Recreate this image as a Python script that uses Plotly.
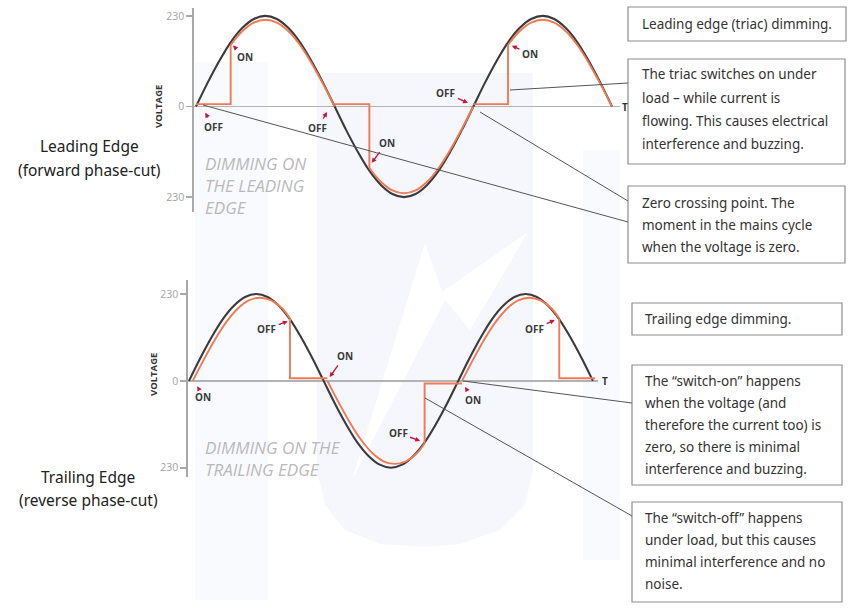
import plotly.graph_objects as go

W, H = 850, 615

# ---------------- data ----------------
PHASE_DEG = list(range(0, 541, 15))
MAINS_V = [0, 60, 115, 163, 199, 222, 230, 222, 199, 163, 115, 60,
           0, -60, -115, -163, -199, -222, -230, -222, -199, -163, -115, -60,
           0, 60, 115, 163, 199, 222, 230, 222, 199, 163, 115, 60, 0]
DIMMED_V = [0, 57, 110, 156, 191, 213, 220, 213, 191, 156, 110, 57,
            0, -57, -110, -156, -191, -213, -220, -213, -191, -156, -110, -57,
            0, 57, 110, 156, 191, 213, 220, 213, 191, 156, 110, 57, 0]

# leading edge: lamp is off from the zero crossing until the triac fires
LEAD_OFF_FROM_DEG = [0, 180, 360]
LEAD_FIRE_DEG = [45, 225, 405]
LEAD_END_DEG = [180, 360, 540]
LEAD_OFF_LEVEL = [6, 6, 6]

# trailing edge: lamp is on from the zero crossing until it is cut
TRAIL_LAG_DEG = 5
TRAIL_START_DEG = [5, 185, 365]
TRAIL_CUT_DEG = [135, 315, 495]
TRAIL_CUT_V = [165, -165, 165]
TRAIL_OFF_LEVEL = [7, -7, 7]
TRAIL_OFF_END_DEG = [185, 365, 543]

TICK_VALS = [230, 0, -230]
TICK_TEXT = ["230", "0", "230"]

LEAD_MARK_TEXT = ["ON", "OFF", "OFF", "ON", "OFF", "ON"]
LEAD_MARK_DEG = [48, 12, 170, 228, 353, 410]
LEAD_MARK_V = [155, -16, -14, -143, 9, 154]
TRAIL_MARK_TEXT = ["ON", "OFF", "ON", "OFF", "ON", "OFF"]
TRAIL_MARK_DEG = [11, 132, 188, 309, 369, 489]
TRAIL_MARK_V = [-14, 158, 10, -159, -16, 161]

BOX_TEXTS = [
    ["Leading edge (triac) dimming."],
    ["The triac switches on under", "load \u2013 while current is",
     "flowing. This causes electrical", "interference and buzzing."],
    ["Zero crossing point. The", "moment in the mains cycle",
     "when the voltage is zero."],
    ["Trailing edge dimming."],
    ["The \u201cswitch-on\u201d happens", "when the voltage (and",
     "therefore the current too) is", "zero, so there is minimal",
     "interference and buzzing."],
    ["The \u201cswitch-off\u201d happens", "under load, but this causes",
     "minimal interference and no", "noise."],
]
SIDE_LABELS = [["Leading Edge", "(forward phase-cut)"],
               ["Trailing Edge", "(reverse phase-cut)"]]
CAPTIONS = [["DIMMING ON", "THE LEADING", "EDGE"],
            ["DIMMING ON THE", "TRAILING EDGE"]]

# ---------------- layout helpers ----------------
def px(x):
    return x / W

def py(y):
    return 1 - y / H

BLACK = "#3b3b3b"
ORANGE = "#ef7a55"
AXIS = "#a9a9a9"
ARROW = "#c8173f"

fig = go.Figure()

# black mains waveform on both panels
for xa, ya in (("x", "y"), ("x2", "y2")):
    fig.add_trace(go.Scatter(x=PHASE_DEG, y=MAINS_V, mode="lines",
                             line=dict(color=BLACK, width=2.1, shape="spline"),
                             xaxis=xa, yaxis=ya, hoverinfo="skip", showlegend=False))

# leading edge dimmed waveform
cx, cy, fx, fy = [], [], [], []
for off0, fire, end, lvl in zip(LEAD_OFF_FROM_DEG, LEAD_FIRE_DEG, LEAD_END_DEG, LEAD_OFF_LEVEL):
    seg = [(p, v) for p, v in zip(PHASE_DEG, DIMMED_V) if fire <= p <= end]
    cx += [p for p, _ in seg] + [None]
    cy += [v for _, v in seg] + [None]
    fx += [off0, fire, fire, None]
    fy += [lvl, lvl, seg[0][1], None]
fig.add_trace(go.Scatter(x=cx, y=cy, mode="lines", connectgaps=False,
                         line=dict(color=ORANGE, width=1.9, shape="spline"),
                         xaxis="x", yaxis="y", hoverinfo="skip", showlegend=False))
fig.add_trace(go.Scatter(x=fx, y=fy, mode="lines", connectgaps=False,
                         line=dict(color=ORANGE, width=1.9),
                         xaxis="x", yaxis="y", hoverinfo="skip", showlegend=False))

# trailing edge dimmed waveform
cx, cy, fx, fy = [], [], [], []
for st, cut, cv, lvl, oe in zip(TRAIL_START_DEG, TRAIL_CUT_DEG, TRAIL_CUT_V,
                                TRAIL_OFF_LEVEL, TRAIL_OFF_END_DEG):
    seg = [(p + TRAIL_LAG_DEG, v) for p, v in zip(PHASE_DEG, DIMMED_V)
           if st <= p + TRAIL_LAG_DEG < cut] + [(cut, cv)]
    cx += [p for p, _ in seg] + [None]
    cy += [v for _, v in seg] + [None]
    fx += [cut, cut, oe, None]
    fy += [cv, lvl, lvl, None]
fig.add_trace(go.Scatter(x=cx, y=cy, mode="lines", connectgaps=False,
                         line=dict(color=ORANGE, width=1.9, shape="spline"),
                         xaxis="x2", yaxis="y2", hoverinfo="skip", showlegend=False))
fig.add_trace(go.Scatter(x=fx, y=fy, mode="lines", connectgaps=False,
                         line=dict(color=ORANGE, width=1.9),
                         xaxis="x2", yaxis="y2", hoverinfo="skip", showlegend=False))

# ---------------- axes ----------------
# top panel: x 194..620 px, 0 deg at 196 px, 0.7704 px/deg; y 8..212 px, 0 V at 106.5 px, 0.394 px/V
# bottom panel: x 188..598 px, 0 deg at 189 px, 0.748 px/deg; y 280..477 px, 0 V at 380.85 px, 0.3776 px/V
panels = [
    dict(xl=194, xr=620, x0=196, kx=0.7704, yt=8, yb=212, y0=106.5, ky=0.394),
    dict(xl=188, xr=598, x0=189, kx=0.748, yt=280, yb=477, y0=380.85, ky=0.3776),
]
for i, p in enumerate(panels):
    sfx = "" if i == 0 else str(i + 1)
    fig.layout["xaxis" + sfx] = dict(
        domain=[px(p["xl"]), px(p["xr"])],
        range=[(p["xl"] - p["x0"]) / p["kx"], (p["xr"] - p["x0"]) / p["kx"]],
        visible=False, showgrid=False, zeroline=False, fixedrange=True,
        anchor="y" + sfx)
    fig.layout["yaxis" + sfx] = dict(
        domain=[py(p["yb"]), py(p["yt"])],
        range=[-(p["yb"] - p["y0"]) / p["ky"], (p["y0"] - p["yt"]) / p["ky"]],
        showline=True, linecolor=AXIS, linewidth=1.6,
        ticks="outside", ticklen=6, tickwidth=1.6, tickcolor=AXIS,
        tickvals=TICK_VALS, ticktext=TICK_TEXT,
        tickfont=dict(size=10.5, color="#a3a3a3", family="Open Sans"),
        showgrid=False, zeroline=True, zerolinecolor="#b3b3b3", zerolinewidth=1.5,
        fixedrange=True, anchor="x" + sfx)

annotations = []
shapes = []

# ON / OFF markers
lead_off = [(12, 12), (8, 14), (-9, 16), (15, -20), (-22, -10), (18, 8)]
trail_off = [(6, 11), (-21, 8), (15, -21), (-22, -8), (8, 13), (-20, 9)]
for texts, degs, vs, offs, xr, yr in (
        (LEAD_MARK_TEXT, LEAD_MARK_DEG, LEAD_MARK_V, lead_off, "x", "y"),
        (TRAIL_MARK_TEXT, TRAIL_MARK_DEG, TRAIL_MARK_V, trail_off, "x2", "y2")):
    for t, d, v, (ax, ay) in zip(texts, degs, vs, offs):
        annotations.append(dict(
            x=d, y=v, xref=xr, yref=yr, ax=ax, ay=ay, text=t, showarrow=True,
            arrowhead=2, arrowsize=0.7, arrowwidth=1.4, arrowcolor=ARROW,
            standoff=0, startstandoff=1,
            font=dict(size=10, color="#3a3a3a", family="Open Sans", weight="bold")))

# VOLTAGE labels and T labels
for (x, y) in ((159, 107), (153, 375)):
    annotations.append(dict(x=px(x), y=py(y), xref="paper", yref="paper", text="VOLTAGE",
                            showarrow=False, textangle=-90, xanchor="center", yanchor="middle",
                            font=dict(size=9.5, color="#333333", family="Open Sans", weight="bold")))
for (x, y) in ((625, 107), (605, 381)):
    annotations.append(dict(x=px(x), y=py(y), xref="paper", yref="paper", text="T",
                            showarrow=False, xanchor="center", yanchor="middle",
                            font=dict(size=10, color="#333333", family="Open Sans", weight="bold")))

# big italic captions
cap_pos = [(203, 185.5), (203, 458.5)]
for lines, (x, y) in zip(CAPTIONS, cap_pos):
    annotations.append(dict(x=px(x), y=py(y), xref="paper", yref="paper",
                            text="<br>".join(lines), align="left",
                            showarrow=False, xanchor="left", yanchor="middle",
                            font=dict(size=17, color="#b9b9b9", family="Open Sans",
                                      style="italic")))

# side labels
side_pos = [(89, [146, 170]), (88, [477, 500])]
for lines, (x, ys) in zip(SIDE_LABELS, side_pos):
    for line, y in zip(lines, ys):
        annotations.append(dict(x=px(x), y=py(y), xref="paper", yref="paper", text=line,
                                showarrow=False, xanchor="center", yanchor="middle",
                                font=dict(size=15.5, color="#222222", family="Noto Sans")))

# text boxes
box_geo = [
    (628, 7, 846, 41, 640, [24]),
    (628, 59, 845, 164, 640, [74, 97.5, 121, 144]),
    (628, 186, 845, 263, 640, [203, 225, 247]),
    (632, 303, 842, 335, 643, [319]),
    (632, 365, 842, 485, 643, [381, 403, 425, 447, 469]),
    (632, 502, 842, 602, 643, [518, 540, 562, 584]),
]
for lines, (x0, y0, x1, y1, tx, ys) in zip(BOX_TEXTS, box_geo):
    shapes.append(dict(type="rect", xref="paper", yref="paper",
                       x0=px(x0), y0=py(y1), x1=px(x1), y1=py(y0),
                       line=dict(color="#8e8e8e", width=1.2), fillcolor="white", layer="above"))
    for line, y in zip(lines, ys):
        annotations.append(dict(x=px(tx), y=py(y), xref="paper", yref="paper", text=line,
                                showarrow=False, xanchor="left", yanchor="middle",
                                font=dict(size=13.5, color="#333333", family="Noto Sans")))

# connector lines
for (xa, ya, xb, yb) in ((510, 90, 628, 83), (480, 112, 628, 201), (203, 105, 628, 222),
                         (463, 381, 632, 403), (425, 398, 632, 516)):
    shapes.append(dict(type="line", xref="paper", yref="paper",
                       x0=px(xa), y0=py(ya), x1=px(xb), y1=py(yb),
                       line=dict(color="#555555", width=1), layer="above"))

# faint watermark logo in the background
def path(pts):
    return "M " + " L ".join(f"{px(x):.5f},{py(y):.5f}" for x, y in pts) + " Z"

wm = [
    ([(195, 62), (268, 62), (268, 600), (195, 600)], "#f9fafd"),
    ([(317, 73), (533, 73), (533, 470), (525, 505), (500, 530), (460, 544), (425, 547),
      (380, 544), (345, 530), (325, 505), (317, 470)], "#f6f7fc"),
    ([(583, 150), (620, 150), (620, 560), (583, 560)], "#f9fafd"),
    ([(352, 480), (425, 243), (442, 292), (528, 232), (470, 330), (445, 300)], "white"),
]
for pts, col in wm:
    shapes.append(dict(type="path", xref="paper", yref="paper", path=path(pts),
                       fillcolor=col, line=dict(width=0), layer="below"))

fig.update_layout(
    width=W, height=H, autosize=False,
    margin=dict(l=0, r=0, t=0, b=0),
    paper_bgcolor="white", plot_bgcolor="rgba(0,0,0,0)",
    showlegend=False,
    annotations=annotations, shapes=shapes,
)

fig.write_html("out.html", config={"displayModeBar": False, "staticPlot": True},
               post_script="document.body.style.margin='0';document.body.style.padding='0';")
